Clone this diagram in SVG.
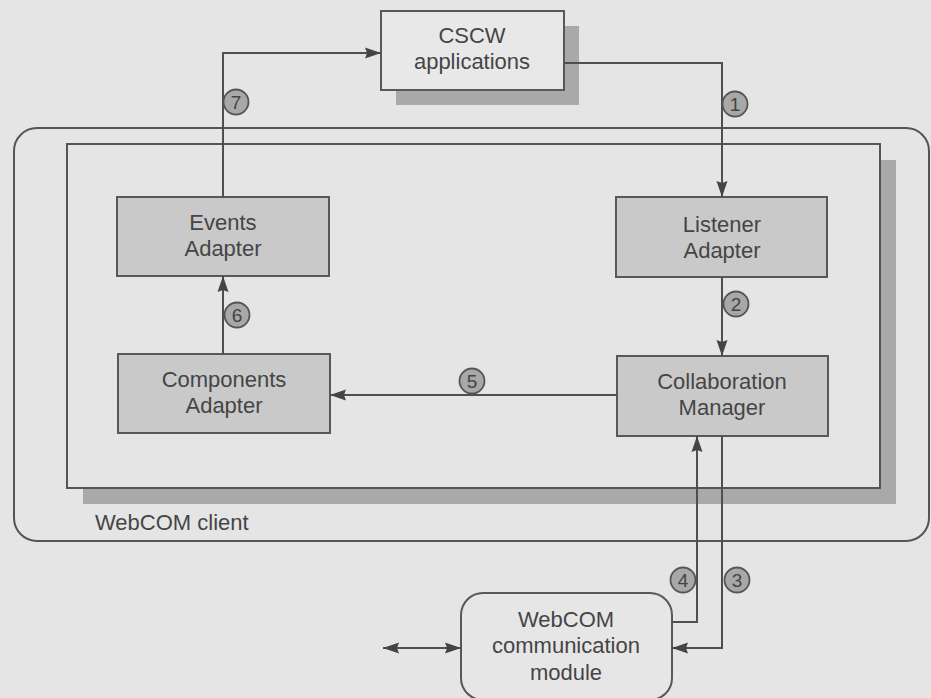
<svg xmlns="http://www.w3.org/2000/svg" width="931" height="698" viewBox="0 0 931 698">
<defs>
<marker id="arr" viewBox="0 0 16 12" refX="16" refY="6" markerWidth="16" markerHeight="12" markerUnits="userSpaceOnUse" orient="auto-start-reverse">
<path d="M0,0.5 L16,6 L0,11.5 L2,6 z" fill="#444"/>
</marker>
<style>
.bg{fill:#e5e5e5}
.frame{fill:none;stroke:#555;stroke-width:2}
.shadow{fill:#a9a9a9}
.box{fill:#c9c9c9;stroke:#585858;stroke-width:2}
.lbox{fill:#e8e8e8;stroke:#585858;stroke-width:2}
.t{font-family:"Liberation Sans",Arial,sans-serif;font-size:22px;fill:#454545;text-anchor:middle}
.tl{font-family:"Liberation Sans",Arial,sans-serif;font-size:22px;fill:#454545}
.c{fill:#a8a8a8;stroke:#555;stroke-width:1.8}
.n{font-family:"Liberation Sans",Arial,sans-serif;font-size:19px;fill:#444;text-anchor:middle}
.line{fill:none;stroke:#4f4f4f;stroke-width:2}
</style>
</defs>
<rect class="bg" x="0" y="0" width="931" height="698"/>

<g id="webcom-client">
<rect class="frame" x="14" y="128" width="915" height="413" rx="23" ry="23"/>
<rect class="shadow" x="83" y="160" width="813" height="344"/>
<rect x="67" y="144" width="813" height="344" fill="#e5e5e5" stroke="#555" stroke-width="2"/>
<text class="tl" x="95" y="530">WebCOM client</text>
</g>

<g id="cscw">
<rect class="shadow" x="396" y="26" width="183" height="79"/>
<rect class="lbox" x="381" y="11" width="183" height="79"/>
<text class="t" x="472" y="43">CSCW</text>
<text class="t" x="472" y="69">applications</text>
</g>

<g id="events-adapter">
<rect class="box" x="117" y="197" width="212" height="79"/>
<text class="t" x="223" y="230">Events</text>
<text class="t" x="223" y="256">Adapter</text>
</g>

<g id="listener-adapter">
<rect class="box" x="616" y="197" width="211" height="80"/>
<text class="t" x="722" y="232">Listener</text>
<text class="t" x="722" y="258">Adapter</text>
</g>

<g id="components-adapter">
<rect class="box" x="118" y="354" width="212" height="79"/>
<text class="t" x="224" y="387">Components</text>
<text class="t" x="224" y="413">Adapter</text>
</g>

<g id="collaboration-manager">
<rect class="box" x="617" y="356" width="211" height="80"/>
<text class="t" x="722" y="389">Collaboration</text>
<text class="t" x="722" y="415">Manager</text>
</g>

<g id="comm-module">
<rect x="461" y="593" width="211" height="107" rx="22" ry="22" fill="#e6e6e6" stroke="#585858" stroke-width="2"/>
<text class="t" x="566" y="627">WebCOM</text>
<text class="t" x="566" y="653">communication</text>
<text class="t" x="566" y="680">module</text>
</g>

<g id="connectors">
<path class="line" d="M564,63 H722 V197" marker-end="url(#arr)"/>
<path class="line" d="M722,277 V356" marker-end="url(#arr)"/>
<path class="line" d="M722,436 V648 H672" marker-end="url(#arr)"/>
<path class="line" d="M672,622 H697 V436" marker-end="url(#arr)"/>
<path class="line" d="M617,395 H330" marker-end="url(#arr)"/>
<path class="line" d="M223,354 V276" marker-end="url(#arr)"/>
<path class="line" d="M223,197 V53 H381" marker-end="url(#arr)"/>
<path class="line" d="M383,648 H461" marker-start="url(#arr)" marker-end="url(#arr)"/>
</g>

<g id="step-labels">
<circle class="c" cx="735" cy="104" r="12.5"/><text class="n" x="735" y="111">1</text>
<circle class="c" cx="736" cy="304" r="12.5"/><text class="n" x="736" y="311">2</text>
<circle class="c" cx="737" cy="580" r="12.5"/><text class="n" x="737" y="587">3</text>
<circle class="c" cx="683" cy="580" r="12.5"/><text class="n" x="683" y="587">4</text>
<circle class="c" cx="472" cy="381" r="12.5"/><text class="n" x="472" y="388">5</text>
<circle class="c" cx="237" cy="315" r="12.5"/><text class="n" x="237" y="322">6</text>
<circle class="c" cx="236" cy="102" r="12.5"/><text class="n" x="236" y="109">7</text>
</g>
</svg>
